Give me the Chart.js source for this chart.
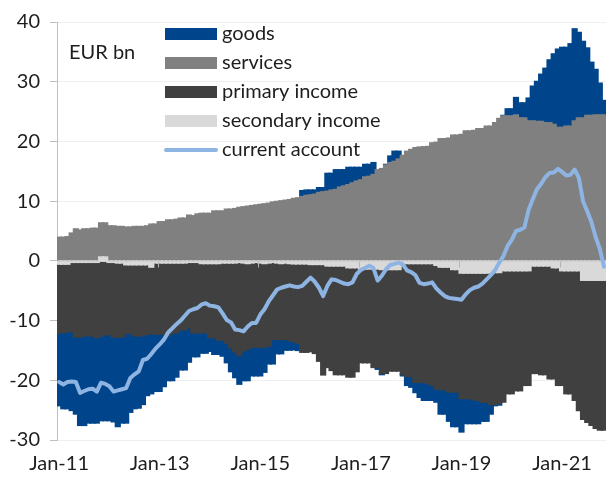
<!DOCTYPE html>
<html>
<head>
<meta charset="utf-8">
<script src="https://cdn.jsdelivr.net/npm/chart.js@4.4.1/dist/chart.umd.min.js"></script>
<style>
html,body{margin:0;padding:0;background:#ffffff;}
#wrap{position:relative;width:616px;height:477px;}
</style>
</head>
<body>
<div id="wrap"><canvas id="c" width="616" height="477"></canvas></div>
<script>
// ---- categories (monthly, Jan-11 .. Nov-21) ----
const monthNames = ['Jan','Feb','Mar','Apr','May','Jun','Jul','Aug','Sep','Oct','Nov','Dec'];
const yearLabels = ['11','12','13','14','15','16','17','18','19','20','21'];
const categories = [];
yearLabels.forEach(y => monthNames.forEach(m => { if (categories.length < 131) categories.push(m + '-' + y); }));

// ---- series values (EUR bn) ----
const services = [
  3.9,3.9,4.0,4.6,5.3,5.1,5.3,5.3,5.4,5.4,
  5.7,5.7,5.8,5.8,5.7,5.7,5.6,5.6,5.7,5.7,
  5.7,5.8,6.1,6.1,6.5,6.5,6.8,6.8,6.9,7.1,
  7.1,7.6,7.5,7.8,7.9,7.9,7.9,8.3,8.3,8.3,
  8.6,8.6,8.7,8.9,9.0,9.1,9.2,9.3,9.4,9.5,
  9.6,9.8,9.9,10.0,10.1,10.2,10.4,10.5,10.7,10.9,
  11.0,11.1,11.4,11.5,11.6,11.8,11.9,12.3,12.5,12.7,
  13.0,13.3,13.5,14.0,14.1,14.4,15.2,15.4,16.0,16.4,
  16.6,17.0,17.6,18.3,18.6,18.9,19.0,19.05,19.1,19.7,
  19.8,20.4,20.4,20.5,21.0,21.0,21.1,21.7,21.7,21.8,
  22.1,22.1,22.5,22.5,23.1,23.8,24.2,24.2,24.2,24.4,
  23.9,23.9,23.4,23.4,23.3,23.3,23.1,23.1,22.8,22.3,
  22.3,22.5,22.5,23.4,23.9,23.9,24.3,24.3,24.4,24.4,
  24.4
];
const secondaryIncome = [
  -0.5,-0.5,-0.5,-0.2,-0.2,-0.2,-0.2,-0.2,-0.2,-0.2,
  0.6,0.6,-0.2,-0.2,-0.3,-0.3,-0.6,-0.6,-0.6,-0.6,
  -0.6,-0.6,-1.0,-0.3,-0.3,-0.3,-0.3,-0.3,-0.3,-0.3,
  -0.3,-0.2,-0.2,-0.2,-0.4,-0.4,-0.4,-0.4,-0.4,-0.3,
  -0.3,-0.3,-0.3,-0.2,-0.3,-0.4,-0.3,-0.2,-0.3,-0.4,
  -0.3,-0.2,-0.3,-0.4,-0.3,-0.4,-0.45,-0.45,-0.45,-0.45,
  -0.55,-0.55,-0.55,-0.55,-0.8,-0.8,-0.8,-0.8,-0.8,-1.1,
  -1.1,-1.1,-1.3,-1.3,-1.3,-1.3,-1.3,-1.4,-1.4,-1.4,
  -1.4,-1.4,-0.4,-0.4,-0.4,-0.4,-0.4,-0.4,-0.4,-0.4,
  -0.7,-1.0,-1.0,-1.0,-1.4,-1.4,-2.0,-2.0,-2.0,-2.0,
  -2.0,-2.0,-2.0,-1.9,-1.9,-1.9,-1.6,-1.6,-1.6,-1.6,
  -1.6,-1.6,-1.6,-0.8,-0.8,-0.8,-0.8,-0.8,-1.1,-1.1,
  -1.6,-1.6,-1.6,-1.6,-1.6,-3.2,-3.2,-3.2,-3.2,-3.2,
  -3.2
];
const primaryIncome = [
  -11.5,-11.5,-11.3,-11.6,-12.5,-12.5,-12.3,-12.3,-12.3,-12.6,
  -12.6,-12.3,-12.1,-12.5,-12.4,-12.4,-11.5,-11.5,-11.9,-11.9,
  -11.9,-11.6,-11.2,-11.9,-11.9,-11.9,-12.2,-11.7,-11.7,-11.2,
  -11.2,-10.9,-11.8,-11.8,-11.6,-11.6,-12.4,-12.4,-12.8,-12.9,
  -13.4,-14.2,-14.9,-15.6,-14.7,-14.3,-14.1,-14.2,-14.1,-14.0,
  -13.9,-12.9,-12.8,-12.7,-12.8,-12.9,-13.0,-13.3,-14.8,-14.8,
  -14.6,-14.9,-16.2,-18.5,-17.0,-17.5,-18.2,-18.2,-18.2,-18.3,
  -18.3,-17.4,-15.7,-15.7,-15.7,-16.5,-16.5,-17.4,-17.4,-17.0,
  -17.0,-17.0,-18.6,-18.9,-18.9,-19.9,-19.9,-19.9,-20.1,-20.4,
  -20.7,-20.5,-20.5,-20.9,-20.5,-20.5,-21.0,-21.0,-21.0,-21.2,
  -21.3,-21.6,-21.6,-22.1,-22.1,-21.9,-22.0,-20.6,-20.6,-20.1,
  -20.1,-19.2,-19.2,-18.0,-18.0,-18.2,-18.2,-18.9,-18.6,-19.7,
  -19.2,-20.6,-20.6,-21.7,-23.4,-23.3,-23.8,-24.3,-24.8,-25.1,
  -25.1
];
const goods = [
  -12.2,-12.7,-12.9,-13.2,-12.9,-14.8,-15.0,-14.6,-14.6,-14.3,
  -14.1,-14.4,-14.4,-14.2,-15.0,-14.4,-15.0,-13.2,-12.2,-12.1,
  -11.5,-10.3,-10.0,-9.6,-9.6,-8.8,-7.5,-8.0,-7.4,-6.7,
  -6.7,-5.8,-4.0,-4.0,-3.4,-3.4,-2.3,-2.8,-2.4,-2.7,
  -3.3,-4.0,-4.3,-4.8,-5.0,-5.3,-4.8,-4.8,-4.8,-4.2,
  -3.0,-4.1,-2.4,-2.4,-1.8,-1.6,-1.4,-1.2,1.0,0.9,
  0.8,0.7,0.8,0.7,3.0,2.8,3.3,2.9,2.7,2.9,
  2.6,2.3,2.1,2.1,2.0,2.0,-0.3,-0.2,0.1,1.1,
  1.7,1.3,-0.2,-1.5,-1.8,-1.7,-2.5,-3.0,-2.8,-2.5,
  -2.2,-4.1,-4.1,-4.9,-5.8,-5.8,-5.6,-4.2,-4.2,-4.0,
  -3.9,-3.2,-3.2,-1.6,-0.2,-0.3,0.1,1.2,1.2,2.9,
  2.5,2.5,3.8,5.8,6.7,7.9,9.1,10.5,11.8,13.1,
  13.4,13.2,13.8,15.4,14.3,12.8,11.3,8.9,7.6,5.3,
  2.4
];
const currentAccount = [
  -20.3,-20.7,-20.3,-20.2,-20.3,-22.1,-21.8,-21.5,-21.4,-21.9,
  -20.4,-20.6,-21.0,-21.9,-21.7,-21.5,-21.3,-19.6,-19.0,-18.5,
  -16.6,-16.4,-15.6,-14.7,-14.0,-13.2,-12.0,-11.3,-10.6,-10.0,
  -9.2,-8.4,-8.1,-7.9,-7.3,-7.1,-7.5,-7.6,-7.8,-8.8,
  -9.9,-10.3,-11.5,-11.6,-11.8,-11.0,-10.4,-10.4,-9.0,-8.1,
  -6.8,-5.8,-4.8,-4.5,-4.3,-4.1,-4.3,-4.4,-4.2,-3.5,
  -2.8,-3.5,-4.5,-5.9,-4.2,-3.1,-3.2,-3.5,-3.8,-3.9,
  -3.6,-2.2,-1.5,-1.2,-0.8,-1.2,-3.3,-2.5,-1.4,-0.7,
  -0.5,-0.3,-0.6,-1.6,-1.9,-2.4,-3.7,-3.9,-3.8,-3.6,
  -4.6,-5.3,-5.9,-6.2,-6.3,-6.4,-6.5,-5.6,-4.9,-4.5,
  -4.3,-3.8,-3.1,-2.4,-1.6,-0.3,0.8,2.5,3.5,5.0,
  5.2,5.6,8.5,10.3,12.0,12.9,14.0,14.7,14.8,15.4,
  14.9,14.3,14.4,15.3,13.9,10.0,8.3,6.5,4.0,2.0,
  -1.0
];

// ---- tick labels / texts ----
const yTicks = [-30,-20,-10,0,10,20,30,40];
const legendOrder = ['goods','services','primary income','secondary income','current account'];
const unitLabel = 'EUR bn';
const labelEvery = 24; // Jan of odd years

const FONT = 'Lato, "Liberation Sans", sans-serif';
const TEXT = '#1e1e1e';

const overlay = {
  id: 'overlay',
  beforeDatasetDraw(chart, args) {
    if (args.meta.type !== 'line') return;
    const ctx = chart.ctx, xs = chart.scales.x, ys = chart.scales.y, ca = chart.chartArea;
    const y0 = Math.round(ys.getPixelForValue(0)) + 0.5;
    ctx.save();
    ctx.lineWidth = 1;
    ctx.strokeStyle = '#d0d0d0';
    ctx.beginPath(); ctx.moveTo(ca.left, y0); ctx.lineTo(ca.right, y0); ctx.stroke();
    ctx.strokeStyle = '#b4b4b4';
    for (let i = labelEvery; i < categories.length; i += labelEvery) {
      const xb = Math.round((xs.getPixelForValue(i - 1) + xs.getPixelForValue(i)) / 2) + 0.5;
      ctx.beginPath(); ctx.moveTo(xb, y0); ctx.lineTo(xb, y0 + 6); ctx.stroke();
    }
    ctx.restore();
  },
  afterDraw(chart) {
    const ctx = chart.ctx;
    ctx.save();
    ctx.font = '20px ' + FONT;
    ctx.textBaseline = 'alphabetic';
    legendOrder.forEach((lab, k) => {
      const ds = chart.data.datasets.find(d => d.label === lab);
      const cy = 34 + k * 29;
      if (ds.type === 'line') {
        ctx.strokeStyle = ds.borderColor; ctx.lineWidth = 4; ctx.lineCap = 'round';
        ctx.beginPath(); ctx.moveTo(166, cy); ctx.lineTo(216, cy); ctx.stroke();
      } else {
        ctx.fillStyle = ds.backgroundColor;
        ctx.fillRect(165, cy - 6, 52, 12);
      }
      ctx.fillStyle = TEXT;
      ctx.fillText(lab, 222, cy + 6);
    });
    ctx.fillStyle = TEXT;
    ctx.fillText(unitLabel, 69, 59);
    ctx.restore();
  }
};

new Chart(document.getElementById('c'), {
  type: 'bar',
  data: {
    labels: categories,
    datasets: [
      { type: 'line', label: 'current account', data: currentAccount, borderColor: '#8db4e2',
        borderWidth: 4, pointRadius: 0, tension: 0, order: -1, stack: 'ca',
        borderJoinStyle: 'round', borderCapStyle: 'round', fill: false },
      { label: 'secondary income', data: secondaryIncome, backgroundColor: '#d9d9d9', stack: 'bop' },
      { label: 'services', data: services, backgroundColor: '#808080', stack: 'bop' },
      { label: 'primary income', data: primaryIncome, backgroundColor: '#404040', stack: 'bop' },
      { label: 'goods', data: goods, backgroundColor: '#00458b', stack: 'bop' }
    ]
  },
  options: {
    responsive: false,
    animation: false,
    devicePixelRatio: 1,
    layout: { padding: { top: 20, right: 0, left: 0, bottom: 0 } },
    datasets: { bar: { barPercentage: 1, categoryPercentage: 1, borderWidth: 0, inflateAmount: 1 } },
    plugins: { legend: { display: false }, tooltip: { enabled: false } },
    scales: {
      x: {
        stacked: true,
        grid: { display: false, drawTicks: false },
        border: { display: false },
        ticks: {
          autoSkip: false, maxRotation: 0, minRotation: 0, padding: 12,
          font: { family: FONT, size: 20 }, color: TEXT,
          callback: (v, i) => (i % labelEvery === 0 ? categories[i] : '')
        },
        afterFit(s) { s.height = 37; }
      },
      y: {
        stacked: true, min: yTicks[0], max: yTicks[yTicks.length - 1],
        afterBuildTicks(s) { s.ticks = yTicks.map(v => ({ value: v })); },
        ticks: { font: { family: FONT, size: 20 }, color: TEXT, padding: 10 },
        grid: { color: '#efefef', tickColor: '#bfbfbf', tickLength: 7 },
        border: { display: true, color: '#bfbfbf', width: 1 },
        afterFit(s) { s.width = 57; }
      }
    }
  },
  plugins: [overlay]
});
</script>
</body>
</html>
